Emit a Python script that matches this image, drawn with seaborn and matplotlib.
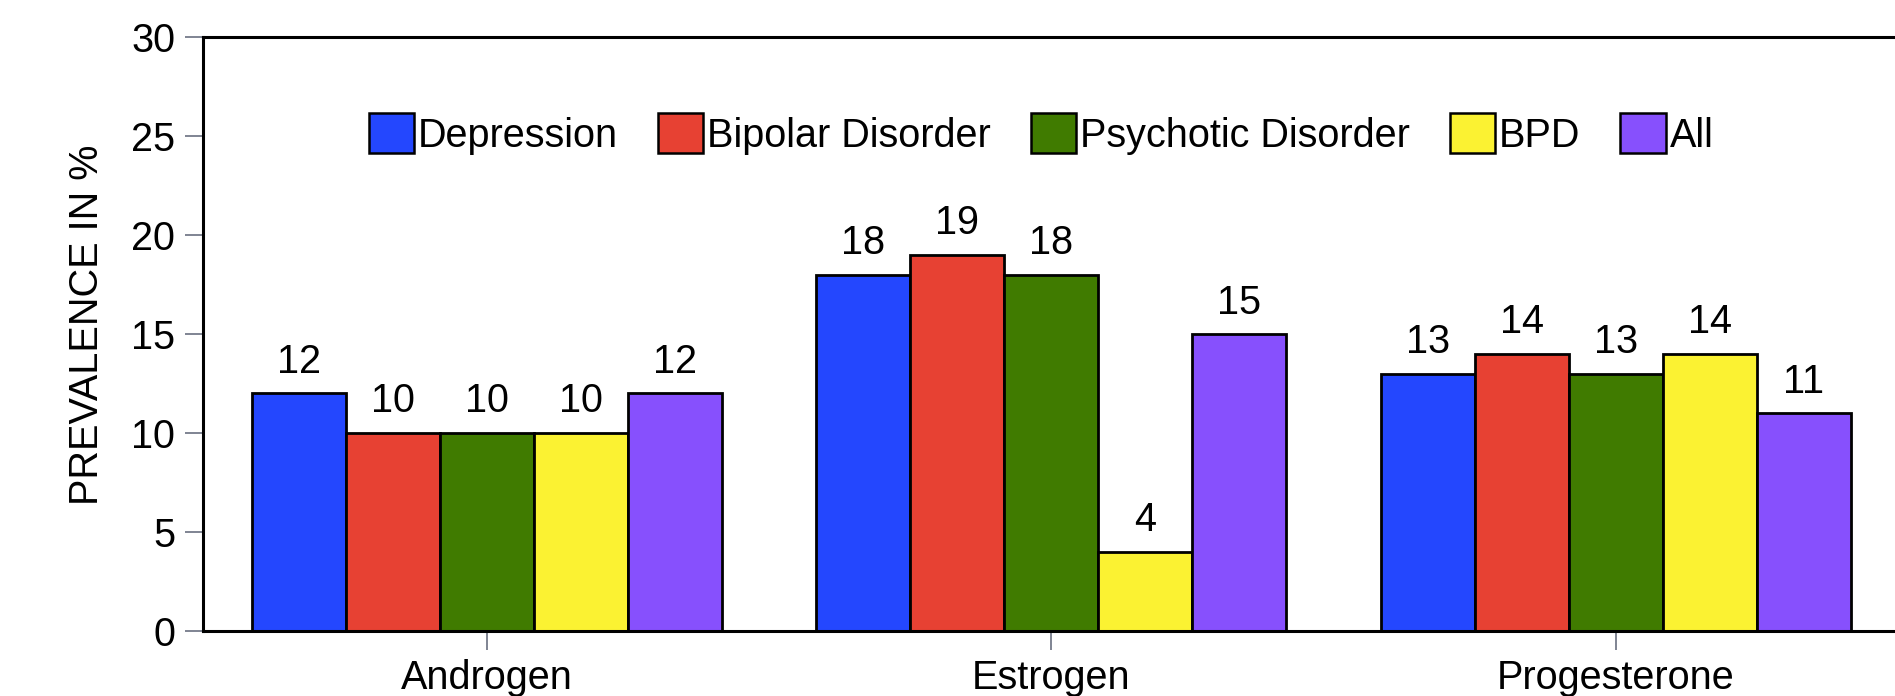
import pandas as pd
import numpy as np
import matplotlib
matplotlib.use("Agg")
import matplotlib.pyplot as plt
import seaborn as sns

# data
hormones = ["Androgen", "Estrogen", "Progesterone"]
groups = ["Depression", "Bipolar Disorder", "Psychotic Disorder", "BPD", "All"]
depression = [12, 18, 13]
bipolar = [10, 19, 14]
psychotic = [10, 18, 13]
bpd = [10, 4, 14]
all_groups = [12, 15, 11]

colors = ["#2447fe", "#e74133", "#407b00", "#fbf232", "#8750fd"]

# long form table for seaborn
rows = []
for g, vals in zip(groups, [depression, bipolar, psychotic, bpd, all_groups]):
    for h, v in zip(hormones, vals):
        rows.append({"Hormone": h, "Group": g, "Prevalence": v})
df = pd.DataFrame(rows)

sns.set_style("ticks")
plt.rcParams["font.family"] = ["Liberation Sans", "DejaVu Sans"]
plt.rcParams["text.color"] = "black"
plt.rcParams["xtick.labelcolor"] = "black"
plt.rcParams["ytick.labelcolor"] = "black"
plt.rcParams["axes.labelcolor"] = "black"

fs = 28.5

fig = plt.figure(figsize=(18.95, 6.96), dpi=100)
ax = fig.add_axes([203 / 1895, 65 / 696, 1695 / 1895, 594 / 696])

sns.barplot(data=df, x="Hormone", y="Prevalence", hue="Group",
            order=hormones, hue_order=groups, palette=colors,
            width=0.833, edgecolor="black", linewidth=2,
            saturation=1, ax=ax, legend=True)

for cont in ax.containers:
    ax.bar_label(cont, fontsize=fs, padding=9, color="black")

ax.set_xlim(-0.503, 2.5)
ax.set_ylim(0, 30)
ax.set_yticks([0, 5, 10, 15, 20, 25, 30])
ax.set_xlabel("")
ax.set_ylabel("PREVALENCE IN %", fontsize=fs)
ax.yaxis.set_label_coords(-0.057, 0.515)
ax.tick_params(axis="y", labelsize=fs, length=13, width=1.2,
               color="#6a7080", pad=7)
ax.tick_params(axis="x", labelsize=fs, length=14, width=1.2,
               color="#6a7080", pad=6)

for side in ["left", "top", "bottom"]:
    ax.spines[side].set_linewidth(2.2)
    ax.spines[side].set_color("black")
ax.spines["right"].set_visible(False)

leg = ax.legend(loc="center", bbox_to_anchor=(1041 / 1895, 1 - 134 / 696),
                bbox_transform=fig.transFigure, ncol=5, frameon=False,
                fontsize=fs, handlelength=1.15, handleheight=1.15,
                handletextpad=0.1, columnspacing=1.0)
for p in leg.get_patches():
    p.set_edgecolor("black")
    p.set_linewidth(1.8)

fig.savefig("out.png", dpi=100)
